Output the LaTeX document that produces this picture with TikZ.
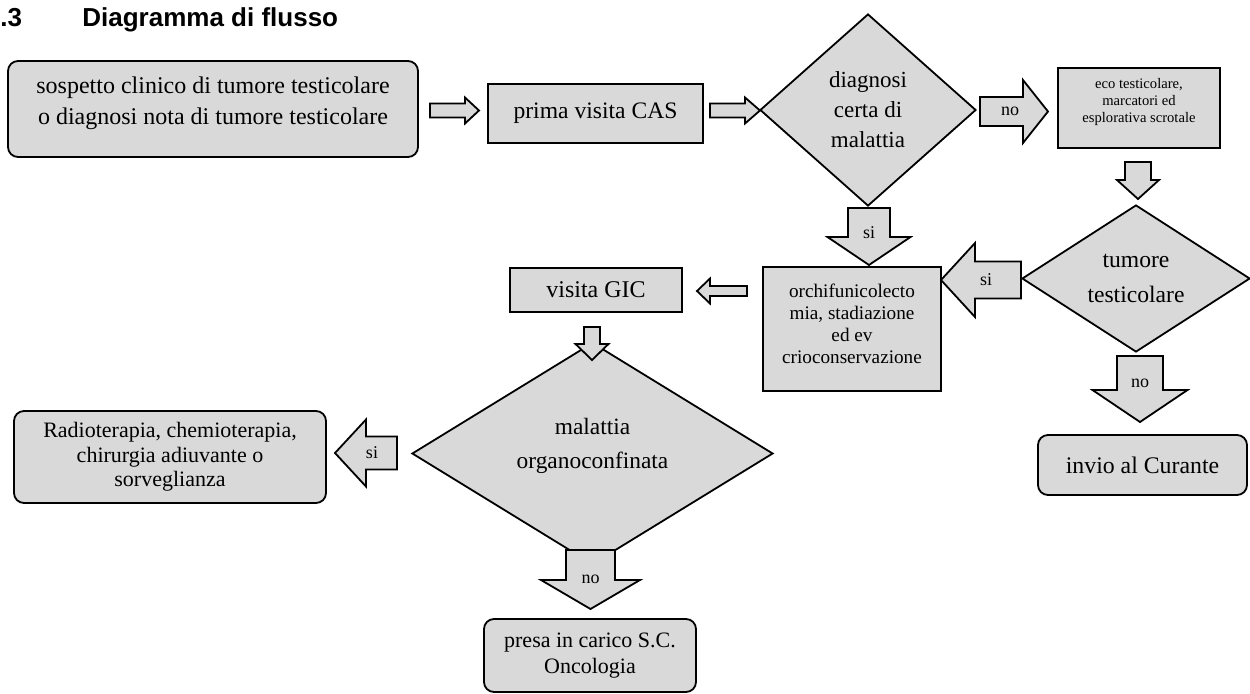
\documentclass[tikz,border=0pt]{standalone}
\usepackage{fontspec}
\setmainfont{Liberation Serif}
\newfontfamily\headfont{Liberation Sans}
\usetikzlibrary{shapes.geometric}
\definecolor{boxgray}{RGB}{217,217,217}

\begin{document}
\begin{tikzpicture}
  [x=0.5pt,y=-0.5pt,
   font=\fontsize{11.5}{15}\selectfont,
   box/.style={draw,
               fill=boxgray,
               line width=0.9pt,
               inner sep=0pt,
               align=center},
   rbox/.style={box,
                rounded corners=5pt},
   deci/.style={box,
                diamond},
   blockarr/.style={draw,
                    fill=boxgray,
                    line width=0.9pt},
   arrlabel/.style={font=\fontsize{9}{10}\selectfont,
                    inner sep=0pt},
   heading/.style={font=\headfont\bfseries\fontsize{13}{15}\selectfont,
                   anchor=base west,
                   inner sep=0pt}
  ]
  \useasboundingbox (0,0) rectangle (1250,693);

  % titolo
  \node[heading] (secnum) at (0,26) {.3};
  \node[heading] (title) at (82,26) {Diagramma di flusso};

  % blocchi
  \node[rbox, minimum width=205pt, minimum height=48pt, text depth=8.5pt, font=\fontsize{12}{15.5}\selectfont] (sospetto) at (213,109)
       {sospetto clinico di tumore testicolare\\o diagnosi nota di tumore testicolare};
  \node[box, minimum width=107.5pt, minimum height=29.5pt, font=\fontsize{11.8}{14}\selectfont] (cas) at (595.5,113.5) {prima visita CAS};
  \node[deci, minimum width=108pt, minimum height=96pt] (certa) at (868,110) {diagnosi\\certa di\\malattia};
  \node[box, minimum width=81pt, minimum height=40pt, font=\fontsize{7.3}{8.5}\selectfont, text depth=8pt] (eco) at (1139,108)
       {eco testicolare,\\marcatori ed\\esplorativa scrotale};
  \node[deci, minimum width=114pt, minimum height=73.5pt, font=\fontsize{11.8}{17.5}\selectfont] (tumore) at (1136,278.5)
       {tumore\\testicolare};
  \node[box, minimum width=89pt, minimum height=62pt, font=\fontsize{9.6}{11}\selectfont, text depth=5pt] (orchi) at (852,329)
       {orchifunicolecto\\mia, stadiazione\\ed ev\\crioconservazione};
  \node[box, minimum width=86pt, minimum height=22pt, font=\fontsize{12}{14}\selectfont] (gic) at (596,290) {visita GIC};
  \node[deci, minimum width=180.5pt, minimum height=93.5pt, font=\fontsize{11.7}{17}\selectfont, text depth=10pt] (confinata) at (592.5,453.5)
       {malattia\\organoconfinata};
  \node[rbox, minimum width=156pt, minimum height=46pt, font=\fontsize{11}{12.3}\selectfont] (terapia) at (170,457)
       {Radioterapia, chemioterapia,\\chirurgia adiuvante o\\sorveglianza};
  \node[rbox, minimum width=106pt, minimum height=36.5pt, font=\fontsize{11}{13}\selectfont] (oncologia) at (590,655.5)
       {presa in carico S.C.\\Oncologia};
  \node[rbox, minimum width=104.5pt, minimum height=30pt, font=\fontsize{11.9}{14}\selectfont] (curante) at (1142.5,465)
       {invio al Curante};

  % frecce a blocco: coda x/y, rotazione, lunghezza, punta, semilarghezza asta/punta, posizione etichetta, etichetta
  \foreach \px/\py/\rot/\len/\hl/\sw/\hw/\lp/\lab [count=\i] in {
      430/110.5/0/49/14/7/13/0/{},
      710/110.5/0/50/15/7/13/0/{},
      980/111.5/0/68/25/14.5/31.5/30/no,
      1138/162/-90/37/19/13/21/0/{},
      869/208/-90/57/28/21/41.5/25/si,
      1021/280/180/80/34/18.5/37/35/si,
      747/291/180/50/13/5/12.5/0/{},
      592/327/-90/33/16/8/16.5/0/{},
      397/453/180/62/31/16.5/33.5/25/si,
      590.5/550/-90/59/29/24.5/49.5/29/no,
      1140/356/-90/66/32/23/47.5/27/no}{
    \begin{scope}[shift={(\px,\py)},rotate=\rot]
      \draw[blockarr] (0,-\sw) -- ({\len-\hl},-\sw) -- ({\len-\hl},-\hw) -- (\len,0)
                      -- ({\len-\hl},\hw) -- ({\len-\hl},\sw) -- (0,\sw) -- cycle;
      \node[arrlabel] (arrow\i) at (\lp,0) {\lab};
    \end{scope}
  }
\end{tikzpicture}
\end{document}
